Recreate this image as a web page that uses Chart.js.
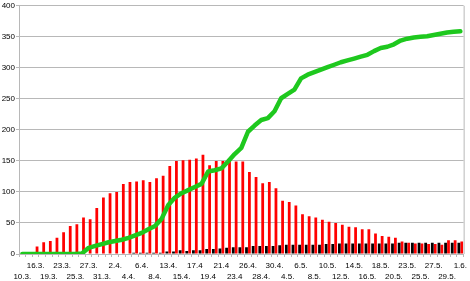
<!DOCTYPE html>
<html>
<head>
<meta charset="utf-8">
<script src="https://cdn.jsdelivr.net/npm/chart.js@4.4.1/dist/chart.umd.min.js"></script>
<style>
  html, body { margin: 0; padding: 0; background: #fff; }
  #wrap { width: 470px; height: 281px; }
</style>
</head>
<body>
<div id="wrap"><canvas id="chart"></canvas></div>
<script>
// Categories (only every 2nd one gets a printed label)
const dates = [
  "10.3.", "13.3.", "16.3.", "18.3.", "19.3.", "22.3.", "23.3.", "24.3.", "25.3.", "26.3.",
  "27.3.", "29.3.", "31.3.", "1.4.", "2.4.", "3.4.", "4.4.", "5.4.", "6.4.", "7.4.",
  "8.4.", "10.4.", "13.4.", "14.4.", "15.4.", "16.4.", "17.4", "18.4", "19.4", "20.4",
  "21.4", "22.4", "23.4", "25.4", "26.4.", "27.4.", "28.4.", "29.4.", "30.4.", "2.5.",
  "4.5.", "5.5.", "6.5.", "7.5.", "8.5.", "9.5.", "10.5.", "11.5.", "12.5.", "13.5.",
  "14.5.", "15.5.", "16.5.", "17.5.", "18.5.", "19.5.", "20.5.", "22.5.", "23.5.", "24.5.",
  "25.5.", "26.5.", "27.5.", "28.5.", "29.5.", "31.5.", "1.6."
];

// red bars
const redValues = [
  0, 3, 12, 19, 21, 26, 35, 45, 48, 59,
  56, 74, 91, 98, 100, 113, 116, 117, 119, 116,
  122, 126, 142, 150, 151, 152, 154, 160, 143, 150,
  150, 150, 149, 149, 132, 124, 114, 116, 106, 86,
  84, 78, 64, 61, 59, 55, 52, 50, 47, 44,
  43, 40, 40, 33, 29, 28, 26, 20, 18, 17,
  17, 16, 16, 15, 22, 22, 20
];

// black bars
const blackValues = [
  0, 0, 0, 0, 0, 0, 0, 0, 0, 0,
  1, 1, 1, 1, 1, 1, 1, 2, 2, 2,
  2, 2, 4, 4, 6, 5, 6, 6, 8, 8,
  9, 10, 11, 11, 11, 13, 13, 13, 13, 14,
  15, 15, 15, 15, 15, 15, 16, 16, 17, 17,
  17, 17, 17, 17, 17, 17, 17, 18, 18, 18,
  18, 18, 18, 18, 18, 18, 18
];

// green line
const greenValues = [
  0, 0, 0, 0, 0, 0, 0, 0, 0, 1,
  10, 13, 16, 19, 21, 23, 26, 30, 34, 40,
  45, 57, 79, 91, 98, 103, 108, 113, 133, 135,
  138, 149, 161, 171, 197, 207, 216, 219, 230, 251,
  258, 265, 283, 289, 293, 297, 301, 305, 309, 312,
  315, 318, 321, 327, 332, 334, 338, 344, 347, 349,
  350, 351, 353, 355, 357, 358, 359
];

const yTicks = [0, 50, 100, 150, 200, 250, 300, 350, 400];

const gridGray = "#b8b8b8";
const font = { family: "Liberation Sans", size: 8 };

// right border of the plot area
const frameRight = {
  id: "frameRight",
  afterDraw(chart) {
    const { ctx, chartArea } = chart;
    ctx.save();
    ctx.strokeStyle = gridGray;
    ctx.lineWidth = 1;
    ctx.beginPath();
    ctx.moveTo(chartArea.right + 0.5, chartArea.top);
    ctx.lineTo(chartArea.right + 0.5, chartArea.bottom);
    ctx.stroke();
    ctx.restore();
  }
};

new Chart(document.getElementById("chart"), {
  type: "bar",
  data: {
    labels: dates,
    datasets: [
      {
        type: "line",
        data: greenValues,
        borderColor: "#1ec81e",
        borderWidth: 4.5,
        pointRadius: 0,
        tension: 0,
        borderJoinStyle: "round",
        borderCapStyle: "round",
        order: 0
      },
      {
        data: blackValues,
        backgroundColor: "#000000",
        categoryPercentage: 0.88,
        barPercentage: 0.95,
        order: 1
      },
      {
        data: redValues,
        backgroundColor: "#ff0000",
        categoryPercentage: 0.88,
        barPercentage: 0.95,
        order: 1
      }
    ]
  },
  options: {
    responsive: true,
    maintainAspectRatio: false,
    animation: false,
    layout: { padding: { top: 2, right: 2, left: 0, bottom: 0 } },
    plugins: {
      legend: { display: false },
      tooltip: { enabled: false }
    },
    scales: {
      x: {
        grid: {
          drawOnChartArea: false,
          color: gridGray,
          tickLength: 3
        },
        border: { color: gridGray },
        ticks: {
          autoSkip: false,
          maxRotation: 0,
          minRotation: 0,
          padding: 3,
          color: "#000",
          font: { ...font, lineHeight: 1.4 },
          callback: (v, i) => {
            if (i % 2) return "";
            const k = i / 2;
            return k % 2 ? [dates[i]] : ["", dates[i]];
          }
        },
        afterFit: (s) => { s.height = 27; }
      },
      y: {
        min: 0,
        max: 400,
        afterBuildTicks: (s) => { s.ticks = yTicks.map((v) => ({ value: v })); },
        grid: { color: gridGray, tickLength: 3 },
        border: { color: gridGray },
        ticks: { color: "#000", font: font, padding: 1 },
        afterFit: (s) => { s.width = 19; }
      }
    }
  },
  plugins: [frameRight]
});
</script>
</body>
</html>
